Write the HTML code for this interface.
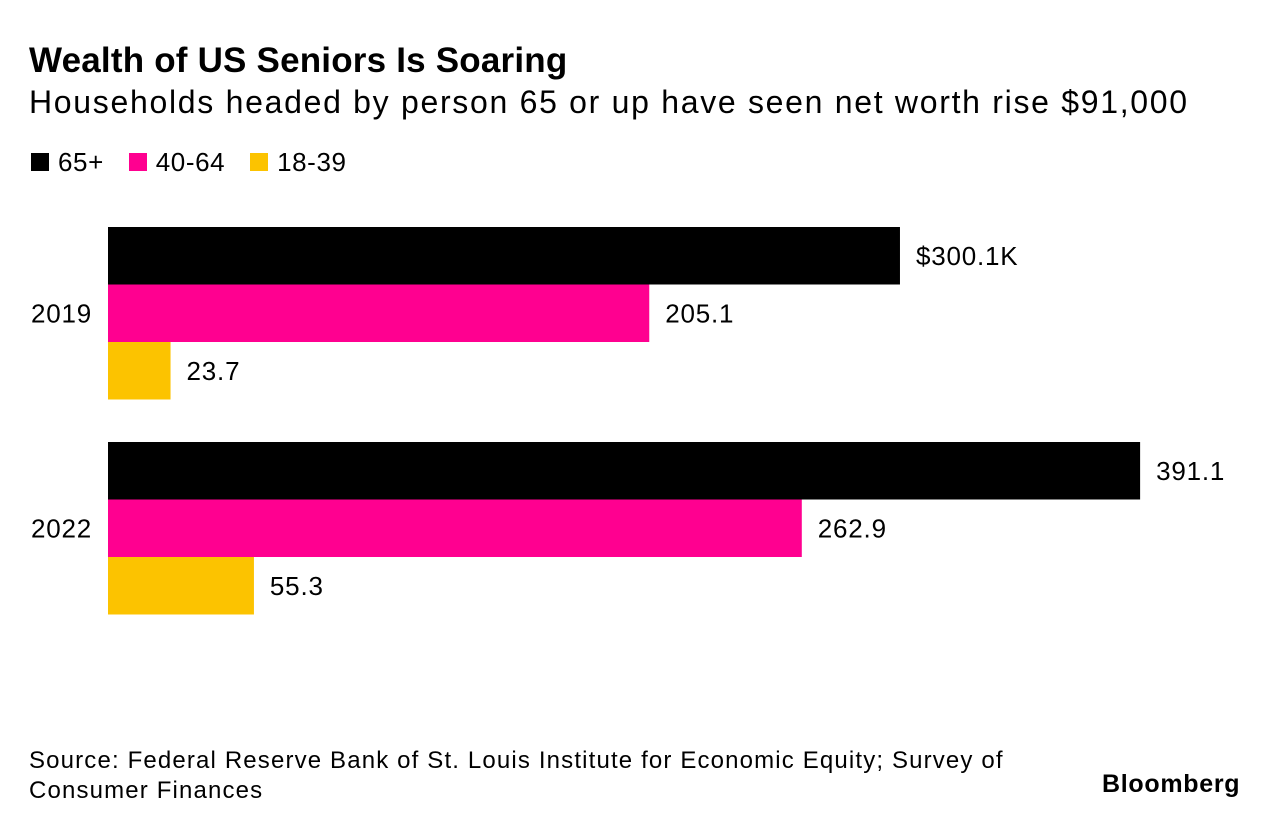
<!DOCTYPE html>
<html><head><meta charset="utf-8"><style>
body{margin:0;width:1280px;height:828px;background:#fff;font-family:"Liberation Sans",sans-serif;color:#000;position:relative;overflow:hidden}
.t{position:absolute;white-space:nowrap}
</style></head><body>
<div class="t" style="left:29px;top:41px;font-size:35px;font-weight:bold;letter-spacing:0.2px">Wealth of US Seniors Is Soaring</div>
<div class="t" style="left:29px;top:84px;font-size:32px;letter-spacing:1.7px">Households headed by person 65 or up have seen net worth rise $91,000</div>
<div class="t" style="left:31px;top:147px;font-size:26px;letter-spacing:0.6px">
<span><span style="display:inline-block;width:18px;height:18px;background:#000;margin-right:9px"></span>65+</span>
<span style="margin-left:17px"><span style="display:inline-block;width:18px;height:18px;background:#ff0090;margin-right:9px"></span>40-64</span>
<span style="margin-left:17px"><span style="display:inline-block;width:18px;height:18px;background:#fcc300;margin-right:9px"></span>18-39</span>
</div>
<svg id="chart" width="1280" height="828" style="position:absolute;left:0;top:0"></svg>
<div class="t" style="left:29px;top:746px;font-size:24px;line-height:30px;letter-spacing:1.15px">Source: Federal Reserve Bank of St. Louis Institute for Economic Equity; Survey of<br>Consumer Finances</div>
<div class="t" style="left:1102px;top:770px;font-size:25px;font-weight:bold;letter-spacing:0.7px">Bloomberg</div>
<script>
const years=["2019","2022"];
const seriesNames=["65+","40-64","18-39"];
const s65=[300.1,391.1];
const s40=[205.1,262.9];
const s18=[23.7,55.3];
const labels65=["$300.1K","391.1"];
const labels40=["205.1","262.9"];
const labels18=["23.7","55.3"];
const colors=["#000000","#ff0090","#fcc300"];
const ns="http://www.w3.org/2000/svg";
const svg=document.getElementById('chart');
const x0=108,k=2.639;
const xs=v=>x0+v*k;
const groupTop=[227,442];
const bh=57.5;
const series=[s65,s40,s18];
const lbls=[labels65,labels40,labels18];
years.forEach((y,i)=>{
  const t=document.createElementNS(ns,'text');
  
  
  t.setAttribute('x',92);t.setAttribute('y',groupTop[i]+bh*1.5+9);
  t.setAttribute('text-anchor','end');t.setAttribute('font-size','26');
  t.setAttribute('letter-spacing','0.8');
  t.textContent=y;svg.appendChild(t);
  series.forEach((s,j)=>{
    const r=document.createElementNS(ns,'rect');
    
    
    const yy=groupTop[i]+j*bh;
    r.setAttribute('x',x0);r.setAttribute('y',yy);
    r.setAttribute('width',xs(s[i])-x0);r.setAttribute('height',bh);
    r.setAttribute('fill',colors[j]);svg.appendChild(r);
    const l=document.createElementNS(ns,'text');
    
    
    l.setAttribute('x',xs(s[i])+16);l.setAttribute('y',yy+bh/2+9);
    l.setAttribute('font-size','26');
    l.setAttribute('letter-spacing','0.8');
    l.textContent=lbls[j][i];svg.appendChild(l);
  });
});
</script>
</body></html>
